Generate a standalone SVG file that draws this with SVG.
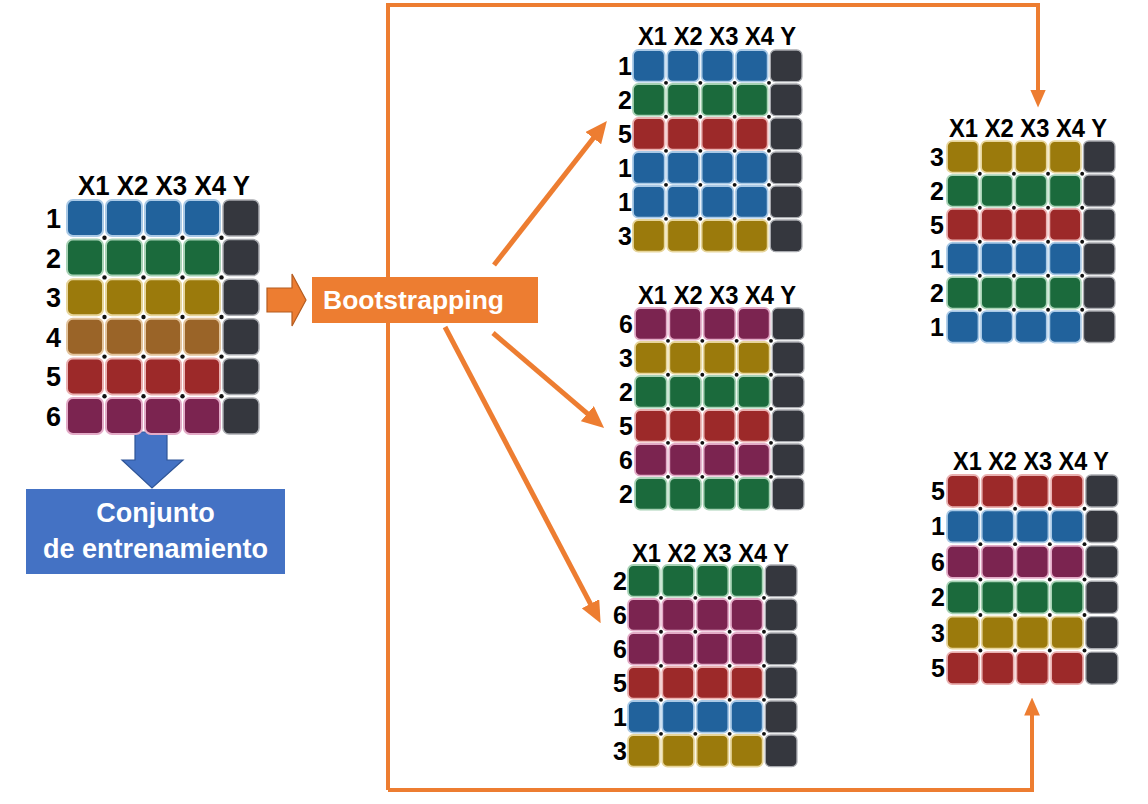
<svg xmlns="http://www.w3.org/2000/svg" xmlns:xlink="http://www.w3.org/1999/xlink" width="1148" height="804" viewBox="0 0 1148 804">
<style>
  .cb{fill:#21629c;stroke:#a9c9e6;stroke-width:2}
  .cg{fill:#1b6a3c;stroke:#a7d2b5;stroke-width:2}
  .co{fill:#9b7a0c;stroke:#e7d59b;stroke-width:2}
  .cn{fill:#9a6428;stroke:#e3c49d;stroke-width:2}
  .cr{fill:#9c2929;stroke:#eab1b1;stroke-width:2}
  .cp{fill:#7b2450;stroke:#e3abc7;stroke-width:2}
  .cy{fill:#35373e;stroke:#a9abb0;stroke-width:1.5}
  .dot{fill:#111}
  .hdr{font-family:"Liberation Sans",Arial,sans-serif;font-weight:bold;fill:#000}
  .lbl{font-family:"Liberation Sans",Arial,sans-serif;font-weight:bold;fill:#000;text-anchor:end}
  .wt{font-family:"Liberation Sans",Arial,sans-serif;font-weight:bold;fill:#fff;text-anchor:middle}
  .ln{fill:none;stroke:#ed7d31;stroke-width:4;stroke-linejoin:miter}
  .dg{fill:none;stroke:#ed7d31;stroke-width:5}
</style>
<defs>
  <g id="rb"><rect class="cb" x="0" y="0" width="36" height="36" rx="6"/><rect class="cb" x="39" y="0" width="36" height="36" rx="6"/><rect class="cb" x="78" y="0" width="36" height="36" rx="6"/><rect class="cb" x="117" y="0" width="36" height="36" rx="6"/><rect class="cy" x="156" y="0" width="36" height="36" rx="6"/></g>
  <g id="rg"><rect class="cg" x="0" y="0" width="36" height="36" rx="6"/><rect class="cg" x="39" y="0" width="36" height="36" rx="6"/><rect class="cg" x="78" y="0" width="36" height="36" rx="6"/><rect class="cg" x="117" y="0" width="36" height="36" rx="6"/><rect class="cy" x="156" y="0" width="36" height="36" rx="6"/></g>
  <g id="ro"><rect class="co" x="0" y="0" width="36" height="36" rx="6"/><rect class="co" x="39" y="0" width="36" height="36" rx="6"/><rect class="co" x="78" y="0" width="36" height="36" rx="6"/><rect class="co" x="117" y="0" width="36" height="36" rx="6"/><rect class="cy" x="156" y="0" width="36" height="36" rx="6"/></g>
  <g id="rn"><rect class="cn" x="0" y="0" width="36" height="36" rx="6"/><rect class="cn" x="39" y="0" width="36" height="36" rx="6"/><rect class="cn" x="78" y="0" width="36" height="36" rx="6"/><rect class="cn" x="117" y="0" width="36" height="36" rx="6"/><rect class="cy" x="156" y="0" width="36" height="36" rx="6"/></g>
  <g id="rr"><rect class="cr" x="0" y="0" width="36" height="36" rx="6"/><rect class="cr" x="39" y="0" width="36" height="36" rx="6"/><rect class="cr" x="78" y="0" width="36" height="36" rx="6"/><rect class="cr" x="117" y="0" width="36" height="36" rx="6"/><rect class="cy" x="156" y="0" width="36" height="36" rx="6"/></g>
  <g id="rp"><rect class="cp" x="0" y="0" width="36" height="36" rx="6"/><rect class="cp" x="39" y="0" width="36" height="36" rx="6"/><rect class="cp" x="78" y="0" width="36" height="36" rx="6"/><rect class="cp" x="117" y="0" width="36" height="36" rx="6"/><rect class="cy" x="156" y="0" width="36" height="36" rx="6"/></g>
  <g id="dl"><circle class="dot" cx="37.5" cy="0" r="2.2"/><circle class="dot" cx="76.5" cy="0" r="2.2"/><circle class="dot" cx="115.5" cy="0" r="2.2"/><circle class="dot" cx="154.5" cy="0" r="2.2"/></g>
  <marker id="ah" markerUnits="userSpaceOnUse" markerWidth="22" markerHeight="20" viewBox="0 0 20 18" refX="6" refY="9" orient="auto"><path d="M0,0 L20,9 L0,18 Z" fill="#ed7d31"/></marker>
  <marker id="as" markerUnits="userSpaceOnUse" markerWidth="18" markerHeight="16" viewBox="0 0 16 14" refX="4" refY="7" orient="auto"><path d="M0,0 L16,7 L0,14 Z" fill="#ed7d31"/></marker>
</defs>

<rect x="0" y="0" width="1148" height="804" fill="#fff"/>

<g id="connectors">
  <path class="ln" d="M388,790 H1032 V711" marker-end="url(#as)"/>
  <path class="ln" d="M388,790 V5 H1038 V94" marker-end="url(#as)"/>
  <path class="dg" d="M494,265 L597.4,133" marker-end="url(#ah)"/>
  <path class="dg" d="M493,333 L592.4,417.9" marker-end="url(#ah)"/>
  <path class="dg" d="M445,327 L593.5,609.6" marker-end="url(#ah)"/>
  <polygon points="267,288 292,288 292,274 306,300 292,326 292,312 267,312" fill="#ed7d31" stroke="#b45c20" stroke-width="1.2"/>
  <polygon points="135,432 167,432 167,460 183,460 152,488 122,460 135,460" fill="#4472c4" stroke="#2f5597" stroke-width="1.2"/>
</g>

<g id="training-table">
  <text class="hdr" x="78" y="195" font-size="27" textLength="172" lengthAdjust="spacingAndGlyphs">X1 X2 X3 X4 Y</text>
  <g transform="translate(67,200)">
    <use xlink:href="#rb" y="0"/><use xlink:href="#rg" y="39.6"/><use xlink:href="#ro" y="79.2"/><use xlink:href="#rn" y="118.8"/><use xlink:href="#rr" y="158.4"/><use xlink:href="#rp" y="198"/>
    <use xlink:href="#dl" y="37.8"/><use xlink:href="#dl" y="77.4"/><use xlink:href="#dl" y="117"/><use xlink:href="#dl" y="156.6"/><use xlink:href="#dl" y="196.2"/>
  </g>
  <g font-size="27"><text class="lbl" x="61" y="228">1</text><text class="lbl" x="61" y="267.6">2</text><text class="lbl" x="61" y="307.2">3</text><text class="lbl" x="61" y="346.8">4</text><text class="lbl" x="61" y="386.4">5</text><text class="lbl" x="61" y="426">6</text></g>
</g>

<g id="training-set">
  <rect x="26" y="489" width="259" height="85" fill="#4472c4"/>
  <text class="wt" x="155.5" y="522" font-size="27">Conjunto</text>
  <text class="wt" x="155.5" y="558" font-size="27">de entrenamiento</text>
</g>

<g id="bootstrapping">
  <rect x="312" y="277" width="226" height="46" fill="#ed7d31"/>
  <text x="323" y="309" font-size="26" textLength="181" lengthAdjust="spacingAndGlyphs" font-family="Liberation Sans, Arial, sans-serif" font-weight="bold" fill="#fff">Bootstrapping</text>
</g>

<g id="sample-1">
  <text class="hdr" x="638" y="45" font-size="25" textLength="158" lengthAdjust="spacingAndGlyphs">X1 X2 X3 X4 Y</text>
  <g transform="translate(633,50) scale(0.88)">
    <use xlink:href="#rb" y="0"/><use xlink:href="#rg" y="38.64"/><use xlink:href="#rr" y="77.27"/><use xlink:href="#rb" y="115.91"/><use xlink:href="#rb" y="154.55"/><use xlink:href="#ro" y="193.18"/>
    <use xlink:href="#dl" y="37.3"/><use xlink:href="#dl" y="75.9"/><use xlink:href="#dl" y="114.6"/><use xlink:href="#dl" y="153.2"/><use xlink:href="#dl" y="191.9"/>
  </g>
  <g font-size="25"><text class="lbl" x="632" y="74.8">1</text><text class="lbl" x="632" y="108.8">2</text><text class="lbl" x="632" y="142.8">5</text><text class="lbl" x="632" y="176.8">1</text><text class="lbl" x="632" y="210.8">1</text><text class="lbl" x="632" y="244.8">3</text></g>
</g>

<g id="sample-2">
  <text class="hdr" x="638" y="304" font-size="25" textLength="158" lengthAdjust="spacingAndGlyphs">X1 X2 X3 X4 Y</text>
  <g transform="translate(635,308) scale(0.88)">
    <use xlink:href="#rp" y="0"/><use xlink:href="#ro" y="38.64"/><use xlink:href="#rg" y="77.27"/><use xlink:href="#rr" y="115.91"/><use xlink:href="#rp" y="154.55"/><use xlink:href="#rg" y="193.18"/>
    <use xlink:href="#dl" y="37.3"/><use xlink:href="#dl" y="75.9"/><use xlink:href="#dl" y="114.6"/><use xlink:href="#dl" y="153.2"/><use xlink:href="#dl" y="191.9"/>
  </g>
  <g font-size="25"><text class="lbl" x="633" y="332.8">6</text><text class="lbl" x="633" y="366.8">3</text><text class="lbl" x="633" y="400.8">2</text><text class="lbl" x="633" y="434.8">5</text><text class="lbl" x="633" y="468.8">6</text><text class="lbl" x="633" y="502.8">2</text></g>
</g>

<g id="sample-3">
  <text class="hdr" x="632" y="562" font-size="25" textLength="157" lengthAdjust="spacingAndGlyphs">X1 X2 X3 X4 Y</text>
  <g transform="translate(628,565) scale(0.88)">
    <use xlink:href="#rg" y="0"/><use xlink:href="#rp" y="38.64"/><use xlink:href="#rp" y="77.27"/><use xlink:href="#rr" y="115.91"/><use xlink:href="#rb" y="154.55"/><use xlink:href="#ro" y="193.18"/>
    <use xlink:href="#dl" y="37.3"/><use xlink:href="#dl" y="75.9"/><use xlink:href="#dl" y="114.6"/><use xlink:href="#dl" y="153.2"/><use xlink:href="#dl" y="191.9"/>
  </g>
  <g font-size="25"><text class="lbl" x="627" y="589.8">2</text><text class="lbl" x="627" y="623.8">6</text><text class="lbl" x="627" y="657.8">6</text><text class="lbl" x="627" y="691.8">5</text><text class="lbl" x="627" y="725.8">1</text><text class="lbl" x="627" y="759.8">3</text></g>
</g>

<g id="sample-4">
  <text class="hdr" x="949" y="137" font-size="25" textLength="158" lengthAdjust="spacingAndGlyphs">X1 X2 X3 X4 Y</text>
  <g transform="translate(947,141) scale(0.875)">
    <use xlink:href="#ro" y="0"/><use xlink:href="#rg" y="38.86"/><use xlink:href="#rr" y="77.71"/><use xlink:href="#rb" y="116.57"/><use xlink:href="#rg" y="155.43"/><use xlink:href="#rb" y="194.29"/>
    <use xlink:href="#dl" y="37.4"/><use xlink:href="#dl" y="76.3"/><use xlink:href="#dl" y="115.1"/><use xlink:href="#dl" y="154"/><use xlink:href="#dl" y="192.9"/>
  </g>
  <g font-size="25"><text class="lbl" x="944" y="165.7">3</text><text class="lbl" x="944" y="199.7">2</text><text class="lbl" x="944" y="233.7">5</text><text class="lbl" x="944" y="267.7">1</text><text class="lbl" x="944" y="301.7">2</text><text class="lbl" x="944" y="335.7">1</text></g>
</g>

<g id="sample-5">
  <text class="hdr" x="953" y="470" font-size="25" textLength="156" lengthAdjust="spacingAndGlyphs">X1 X2 X3 X4 Y</text>
  <g transform="translate(947,475) scale(0.89)">
    <use xlink:href="#rr" y="0"/><use xlink:href="#rb" y="39.8"/><use xlink:href="#rp" y="79.6"/><use xlink:href="#rg" y="119.4"/><use xlink:href="#ro" y="159.2"/><use xlink:href="#rr" y="199"/>
    <use xlink:href="#dl" y="37.9"/><use xlink:href="#dl" y="77.7"/><use xlink:href="#dl" y="117.5"/><use xlink:href="#dl" y="157.3"/><use xlink:href="#dl" y="197.1"/>
  </g>
  <g font-size="25"><text class="lbl" x="945" y="500">5</text><text class="lbl" x="945" y="535.4">1</text><text class="lbl" x="945" y="570.8">6</text><text class="lbl" x="945" y="606.2">2</text><text class="lbl" x="945" y="641.6">3</text><text class="lbl" x="945" y="677">5</text></g>
</g>
</svg>
